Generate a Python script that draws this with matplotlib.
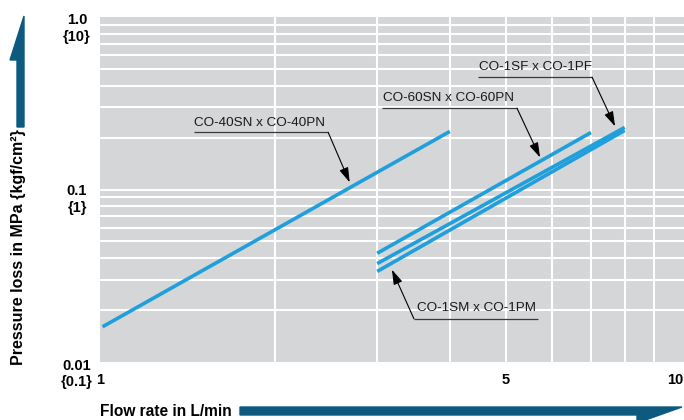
import matplotlib
matplotlib.use("Agg")
import matplotlib.pyplot as plt
from matplotlib.patches import Polygon
import numpy as np

# ---- data ----
series_names = ["CO-40SN x CO-40PN", "CO-60SN x CO-60PN", "CO-1SF x CO-1PF", "CO-1SM x CO-1PM"]
flow_40 = [1.01, 4.0]
loss_40 = [0.016, 0.217]
flow_60 = [3.0, 7.0]
loss_60 = [0.0427, 0.214]
flow_1sf = [3.0, 8.0]
loss_1sf = [0.0372, 0.229]
flow_1sm = [3.0, 8.0]
loss_1sm = [0.0335, 0.220]

x_tick_vals = [1, 5, 10]
x_tick_labels = ["1", "5", "10"]
y_tick_vals = [1.0, 0.1, 0.01]
y_tick_main = ["1.0", "0.1", "0.01"]
y_tick_sub = ["{10}", "{1}", "{0.1}"]

x_label = "Flow rate in L/min"
y_label = "Pressure loss in MPa {kgf/cm²}"

# ---- style ----
NARROW = ["Liberation Sans Narrow", "Liberation Sans", "DejaVu Sans"]
LINE_C = "#1f9fdc"
BG = "#d4d6d7"
ARROW_C = "#0c5a80"

W, H = 684, 420
fig = plt.figure(figsize=(W / 100, H / 100), dpi=100)
L, R, T, B = 100, 684, 17, 362
ax = fig.add_axes([L / W, 1 - B / H, (R - L) / W, (B - T) / H])
ax.set_facecolor(BG)
ax.set_xscale("log")
ax.set_yscale("log")
ax.set_xlim(1, 10 ** (584 / 581))
ax.set_ylim(0.01, 1.0)
for s in ax.spines.values():
    s.set_visible(False)

# grid
for v in range(2, 10):
    ax.axvline(v, color="white", lw=1.5, zorder=1)
for dec in [0.01, 0.1]:
    for m in range(2, 10):
        ax.axhline(dec * m, color="white", lw=1.5, zorder=1)
ax.axhline(0.1, color="white", lw=1.5, zorder=1)

ax.set_xticks([])
ax.set_yticks([])
ax.minorticks_off()

# series
for q, p in [(flow_40, loss_40), (flow_60, loss_60), (flow_1sf, loss_1sf), (flow_1sm, loss_1sm)]:
    ax.plot(q, p, color=LINE_C, lw=2.6, solid_capstyle="butt", zorder=3)

# tick labels
tick_fs = 10.5
y_offsets = {1.0: (-3, -20), 0.1: (-1, -18), 0.01: (-4, -20)}
for v, a, b in zip(y_tick_vals, y_tick_main, y_tick_sub):
    o1, o2 = y_offsets[v]
    ax.annotate(a, xy=(0, v), xycoords=("axes fraction", "data"),
                xytext=(-23 * 0.72, o1 * 0.72), textcoords="offset points",
                ha="center", va="center", fontsize=tick_fs, fontweight="bold",
                family=NARROW, annotation_clip=False)
    ax.annotate(b, xy=(0, v), xycoords=("axes fraction", "data"),
                xytext=(-23 * 0.72, o2 * 0.72), textcoords="offset points",
                ha="center", va="center", fontsize=tick_fs, fontweight="bold",
                family=NARROW, annotation_clip=False)
x_dx = {1: 0, 5: 0, 10: -6}
for v, t in zip(x_tick_vals, x_tick_labels):
    ax.annotate(t, xy=(v, 0), xycoords=("data", "axes fraction"),
                xytext=(x_dx[v] * 0.72, -18 * 0.72), textcoords="offset points",
                ha="center", va="center", fontsize=tick_fs, fontweight="bold",
                family=NARROW, annotation_clip=False)

# callouts: (text, underline x0, underline x1, underline y, tip x, tip y, text dx px, text dy px)
callouts = [
    (series_names[0], 1.451, 2.47, 0.2145, 2.69, 0.110, 0, 9),
    (series_names[1], 3.06, 5.22, 0.296, 5.72, 0.1535, 1, 10),
    (series_names[2], 4.47, 7.03, 0.448, 7.70, 0.2324, 1, 10),
    (series_names[3], 3.47, 5.67, 0.0178, 3.18, 0.0343, 3, 11),
]
for i, (txt, x0, x1, yu, tx, ty, dx, dy) in enumerate(callouts):
    ax.plot([x0, x1], [yu, yu], color="#3a3a3a", lw=0.9, zorder=4, solid_capstyle="butt")
    start = (x1, yu) if i < 3 else (x0, yu)
    ax.annotate("", xy=(tx, ty), xytext=start,
                arrowprops=dict(arrowstyle="-|>,head_length=0.9,head_width=0.28",
                                color="black", lw=0.8, shrinkA=0, shrinkB=0,
                                mutation_scale=10), zorder=5)
    ax.annotate(txt, xy=(x0, yu), xytext=(dx * 0.72, dy * 0.72), textcoords="offset points",
                ha="left", va="center", fontsize=9.7, family=NARROW, color="#1a1a1a", zorder=5)

# axis labels
fig.text(100 / W, 1 - 411 / H, x_label, ha="left", va="center", fontsize=11.2,
         fontweight="bold", family=NARROW)
fig.text(19 / W, 1 - 247 / H, y_label, ha="center", va="center", rotation=90,
         fontsize=11.5, fontweight="bold", family=NARROW)

# decorative arrows
def to_fig(pts):
    return [(x / W, 1 - y / H) for x, y in pts]

fig.patches.append(Polygon(to_fig([(17, 127), (24, 127), (24, 16), (10, 60), (17, 60)]),
                           closed=True, color=ARROW_C, transform=fig.transFigure))
fig.patches.append(Polygon(to_fig([(240, 407), (682, 407), (637, 423), (637, 415), (240, 415)]),
                           closed=True, color=ARROW_C, transform=fig.transFigure))

fig.savefig("out.png", dpi=100)
